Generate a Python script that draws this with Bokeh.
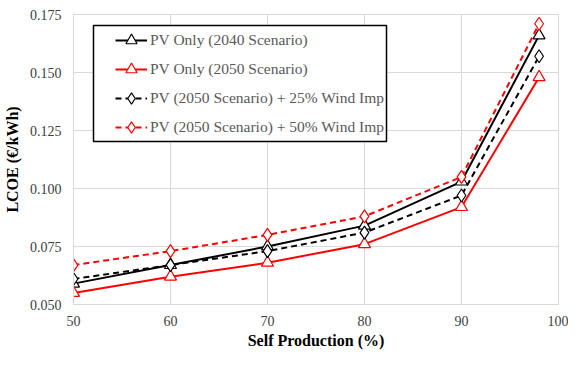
from bokeh.plotting import figure
from bokeh.models import Legend, LegendItem, Range1d, FixedTicker, NumeralTickFormatter, BoxAnnotation
from bokeh.embed import file_html
from bokeh.resources import INLINE

x_vals = [50, 60, 70, 80, 90, 98]
pv_2040 = [0.059, 0.067, 0.075, 0.084, 0.103, 0.166]
pv_2050 = [0.055, 0.062, 0.068, 0.076, 0.092, 0.148]
pv_wind25 = [0.061, 0.067, 0.073, 0.081, 0.097, 0.157]
pv_wind50 = [0.067, 0.073, 0.080, 0.088, 0.105, 0.171]

labels = ["PV Only (2040 Scenario)", "PV Only (2050 Scenario)",
          "PV (2050 Scenario) + 25% Wind Imp", "PV (2050 Scenario) + 50% Wind Imp"]
x_ticks = [50, 60, 70, 80, 90, 100]
y_ticks = [0.050, 0.075, 0.100, 0.125, 0.150, 0.175]

FONT = "'Liberation Serif', 'Times New Roman', serif"

p = figure(width=568, height=351, output_backend="svg", toolbar_location=None,
           x_range=Range1d(50, 100), y_range=Range1d(0.05, 0.175),
           min_border_left=70, min_border_right=10, min_border_top=14, min_border_bottom=42)
p.outline_line_color = "#d9d9d9"
p.background_fill_color = "white"

p.axis.axis_line_color = "#d9d9d9"
p.axis.major_tick_line_color = None
p.axis.minor_tick_line_color = None
p.axis.major_label_text_font = FONT
p.axis.major_label_text_font_size = "14px"
p.axis.major_label_text_color = "#404040"
p.axis.axis_label_text_font = FONT
p.axis.axis_label_text_font_size = "16px"
p.axis.axis_label_text_font_style = "bold"
p.axis.axis_label_text_color = "black"

p.xaxis.ticker = FixedTicker(ticks=x_ticks)
p.yaxis.ticker = FixedTicker(ticks=y_ticks)
p.yaxis.formatter = NumeralTickFormatter(format="0.000")
p.xaxis.axis_label = "Self Production (%)"
p.yaxis.axis_label = "LCOE (€/kWh)"
p.xaxis.major_label_standoff = 5
p.yaxis.major_label_standoff = 6
p.xaxis.axis_label_standoff = 3
p.yaxis.axis_label_standoff = 6
p.grid.grid_line_color = "#d9d9d9"

series = [
    (pv_2040, "black", "solid", "triangle"),
    (pv_2050, "red", "solid", "triangle"),
    (pv_wind25, "black", "dashed", "diamond"),
    (pv_wind50, "red", "dashed", "diamond"),
]

renderers = []
for (vals, col, dash, marker) in series:
    l = p.line(x_vals, vals, line_color=col, line_width=2,
               line_dash=("6 4" if dash == "dashed" else "solid"))
    renderers.append(l)

box = BoxAnnotation(left=20, right=313, top=279, bottom=163,
                    left_units="screen", right_units="screen",
                    top_units="screen", bottom_units="screen",
                    fill_color="white", fill_alpha=1,
                    line_color="black", line_alpha=1, line_width=1.5, level="overlay")
p.add_layout(box)

items = []
for (vals, col, dash, marker), lab, l in zip(series, labels, renderers):
    s = p.scatter(x_vals, vals, marker=marker, size=(12 if marker == "triangle" else 13),
                  line_color=col, fill_color="white", line_width=1.2)
    items.append(LegendItem(label=lab, renderers=[l, s]))

legend = Legend(items=items, location=(42, 163))
legend.border_line_color = None
legend.background_fill_alpha = 0
legend.label_text_font = FONT
legend.label_text_font_size = "15.5px"
legend.label_text_color = "#595959"
legend.glyph_width = 32
legend.glyph_height = 28
legend.label_height = 28
legend.spacing = 1
legend.padding = 0
legend.margin = 0
legend.label_standoff = 3
p.add_layout(legend, "center")

open("out.html", "w").write(file_html(p, INLINE))
